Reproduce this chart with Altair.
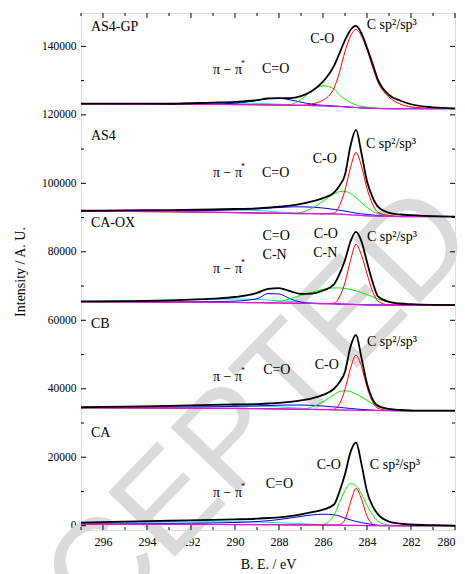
import altair as alt
import pandas as pd

# ---------------- data ----------------
BE = [297, 295, 293, 291, 290, 289, 288.5, 288, 287.5, 287, 286.5, 286, 285.5,
      285.25, 285, 284.75, 284.5, 284.25, 284, 283.75, 283.5, 283, 282.5, 282, 281, 280]

GP_BASE = [123200, 123150, 123100, 123050, 123000, 122950, 122900, 122850, 122800, 122750, 122700, 122600, 122500,
           122450, 122350, 122250, 122150, 122050, 121950, 121900, 121850, 121800, 121800, 121800, 121800, 121800]
GP_TOTAL = [123300, 123300, 123250, 123600, 123800, 124300, 124800, 124900, 124900, 125500, 127000, 129700, 134300,
            138000, 141800, 144800, 146000, 143800, 139600, 135000, 130200, 125800, 124200, 123100, 122200, 121900]
GP_RED = [123200, 123150, 123100, 123050, 123000, 122950, 122900, 122850, 122800, 122800, 123200, 124300, 127800,
          132500, 138500, 143000, 144950, 143000, 139000, 134000, 129500, 125200, 123200, 122300, 121900, 121800]
GP_GREEN = [123200, 123150, 123100, 123050, 123000, 122950, 122900, 122850, 123000, 124500, 127100, 128500, 127600,
            125800, 124600, 123600, 122900, 122500, 122200, 122050, 121950, 121850, 121800, 121800, 121800, 121800]
GP_BLUE = [123200, 123150, 123100, 123150, 123400, 124200, 124700, 124800, 124400, 123700, 123100, 122800, 122600,
           122450, 122350, 122250, 122150, 122050, 121950, 121900, 121850, 121800, 121800, 121800, 121800, 121800]
GP_CYAN = [123250, 123250, 123300, 123400, 123400, 123350, 123250, 123100, 122950, 122800, 122700, 122600, 122500,
           122450, 122350, 122250, 122150, 122050, 121950, 121900, 121850, 121800, 121800, 121800, 121800, 121800]

AS4_BASE = [91900, 91800, 91700, 91550, 91450, 91350, 91300, 91250, 91200, 91150, 91150, 91100, 91050,
            91000, 90900, 90800, 90700, 90600, 90500, 90450, 90400, 90350, 90300, 90300, 90300, 90300]
AS4_TOTAL = [92000, 92100, 92200, 92400, 92500, 92700, 92900, 93200, 93500, 94000, 94700, 95700, 97300,
             99300, 102500, 111000, 115600, 108700, 100600, 96000, 93200, 91400, 90900, 90700, 90400, 90300]
AS4_RED = [91900, 91800, 91700, 91550, 91450, 91350, 91300, 91250, 91200, 91150, 91150, 91100, 91300,
           93500, 98000, 104600, 109000, 105000, 98500, 94000, 91500, 90600, 90300, 90300, 90300, 90300]
AS4_GREEN = [91900, 91800, 91700, 91550, 91450, 91350, 91300, 91250, 91200, 91500, 92700, 94800, 96900,
             97600, 97700, 97000, 95800, 94300, 93000, 91900, 91100, 90550, 90300, 90300, 90300, 90300]
AS4_BLUE = [91950, 91950, 91950, 92100, 92250, 92500, 92750, 92950, 93100, 93150, 93050, 92800, 92400,
            92150, 91900, 91600, 91300, 91100, 90900, 90750, 90600, 90450, 90300, 90300, 90300, 90300]
AS4_CYAN = [91950, 92000, 92100, 92250, 92250, 92100, 91900, 91600, 91450, 91300, 91200, 91100, 91050,
            91000, 90900, 90800, 90700, 90600, 90500, 90450, 90400, 90350, 90300, 90300, 90300, 90300]

OX_BASE = [65400, 65350, 65300, 65250, 65200, 65150, 65100, 65050, 65000, 64950, 64900, 64850, 64800,
           64750, 64700, 64650, 64600, 64550, 64500, 64480, 64460, 64450, 64450, 64450, 64450, 64450]
OX_TOTAL = [65500, 65600, 65800, 66300, 66800, 68000, 69200, 69400, 68500, 67700, 67800, 68700, 70500,
            73500, 77600, 83000, 85800, 83000, 77000, 71300, 67000, 65400, 64900, 64700, 64500, 64450]
OX_RED = [65400, 65350, 65300, 65250, 65200, 65150, 65100, 65050, 65000, 64950, 64900, 64850, 65000,
          66800, 71000, 77500, 82200, 79000, 73600, 68500, 65600, 64500, 64450, 64450, 64450, 64450]
OX_GREEN = [65400, 65350, 65300, 65250, 65200, 65150, 65150, 65400, 66300, 67300, 68200, 69000, 69450,
            69450, 69300, 69000, 68600, 68100, 67500, 66900, 66200, 65300, 64700, 64450, 64450, 64450]
OX_BLUE = [65450, 65450, 65400, 65450, 65600, 66300, 67800, 67700, 66300, 65300, 64950, 64850, 64800,
           64750, 64700, 64650, 64600, 64550, 64500, 64480, 64460, 64450, 64450, 64450, 64450, 64450]
OX_CYAN = [65500, 65700, 65900, 66100, 66200, 66100, 65900, 65700, 65500, 65300, 65100, 64950, 64850,
           64750, 64700, 64650, 64600, 64550, 64500, 64480, 64460, 64450, 64450, 64450, 64450, 64450]

CB_BASE = [34450, 34400, 34350, 34300, 34250, 34200, 34150, 34100, 34050, 34000, 33950, 33900, 33850,
           33800, 33780, 33750, 33720, 33700, 33680, 33660, 33650, 33620, 33600, 33600, 33600, 33600]
CB_TOTAL = [34600, 34800, 35000, 35300, 35400, 35500, 35700, 35900, 36200, 36600, 37200, 38200, 40000,
            41900, 45000, 52300, 55700, 49000, 41500, 37000, 35000, 34100, 33800, 33650, 33600, 33600]
CB_RED = [34450, 34400, 34350, 34300, 34250, 34200, 34150, 34100, 34050, 34000, 33950, 33900, 34000,
          35600, 39800, 46000, 49800, 46500, 40500, 36200, 34300, 33650, 33600, 33600, 33600, 33600]
CB_GREEN = [34450, 34400, 34350, 34300, 34250, 34200, 34150, 34100, 34050, 34050, 34700, 36200, 38300,
            39200, 39400, 39200, 38500, 37600, 36600, 35600, 34800, 33900, 33650, 33600, 33600, 33600]
CB_BLUE = [34450, 34500, 34600, 34750, 34850, 35000, 35100, 35200, 35250, 35250, 35150, 34950, 34700,
           34550, 34400, 34250, 34100, 33970, 33850, 33770, 33700, 33620, 33600, 33600, 33600, 33600]
CB_CYAN = [34500, 34650, 34800, 34950, 35000, 34950, 34850, 34700, 34500, 34300, 34100, 33950, 33870,
           33800, 33780, 33750, 33720, 33700, 33680, 33660, 33650, 33620, 33600, 33600, 33600, 33600]

CA_BASE = [450, 420, 390, 360, 340, 320, 300, 280, 260, 240, 220, 190, 160,
           140, 120, 100, 80, 60, 40, 30, 20, 10, 0, 0, 0, 0]
CA_TOTAL = [900, 1200, 1450, 1700, 1850, 2050, 2250, 2450, 2800, 3300, 3950, 4700, 6200,
            10000, 15000, 21500, 24300, 18000, 10000, 5800, 3300, 1200, 600, 350, 150, 50]
CA_RED = [450, 420, 390, 360, 340, 320, 300, 280, 260, 240, 220, 190, 160,
          300, 1800, 6800, 10900, 7800, 2800, 500, 50, 10, 0, 0, 0, 0]
CA_GREEN = [450, 420, 390, 360, 340, 320, 300, 280, 260, 240, 220, 400, 3000,
            6800, 10300, 12300, 11700, 9300, 6000, 3200, 1300, 200, 0, 0, 0, 0]
CA_BLUE = [500, 550, 650, 800, 950, 1200, 1450, 1800, 2250, 2750, 3150, 3350, 3200,
           2800, 2200, 1700, 1250, 900, 600, 350, 150, 30, 0, 0, 0, 0]
CA_CYAN = [800, 950, 1100, 1150, 1150, 1100, 1000, 900, 750, 600, 450, 330, 220,
           150, 120, 100, 80, 60, 40, 30, 20, 10, 0, 0, 0, 0]

PANELS = {
    "AS4-GP": {"base": GP_BASE, "total": GP_TOTAL, "red": GP_RED, "green": GP_GREEN, "blue": GP_BLUE, "cyan": GP_CYAN},
    "AS4": {"base": AS4_BASE, "total": AS4_TOTAL, "red": AS4_RED, "green": AS4_GREEN, "blue": AS4_BLUE, "cyan": AS4_CYAN},
    "CA-OX": {"base": OX_BASE, "total": OX_TOTAL, "red": OX_RED, "green": OX_GREEN, "blue": OX_BLUE, "cyan": OX_CYAN},
    "CB": {"base": CB_BASE, "total": CB_TOTAL, "red": CB_RED, "green": CB_GREEN, "blue": CB_BLUE, "cyan": CB_CYAN},
    "CA": {"base": CA_BASE, "total": CA_TOTAL, "red": CA_RED, "green": CA_GREEN, "blue": CA_BLUE, "cyan": CA_CYAN},
}

# annotation texts
SAMPLE_NAMES = ["AS4-GP", "AS4", "CA-OX", "CB", "CA"]
SAMPLE_Y = [145800, 113900, 88450, 58950, 26980]
CO_Y = [142060, 107080, 85090, 47010, 17720]
CO_X = [286.03, 285.92, 285.87, 285.83, 285.74]
CEO_Y = [133350, 102990, 84500, 45550, 12120]
CEO_X = [288.15, 288.15, 288.13, 288.1, 287.98]
CN_X = [288.2, 285.9]
CN_Y = [79040, 79630]
SP_X = [284.01, 284.05, 284.0, 284.0, 283.87]
SP_Y = [146350, 111600, 84390, 53730, 17640]
PI_Y = [133060, 102990, 74960, 43510, 9610]

X_MAJOR = [296, 294, 292, 290, 288, 286, 284, 282, 280]
X_MINOR = [297, 295, 293, 291, 289, 287, 285, 283, 281]
Y_MAJOR = [0, 20000, 40000, 60000, 80000, 100000, 120000, 140000]
Y_MINOR = [10000, 30000, 50000, 70000, 90000, 110000, 130000]

# ---------------- chart ----------------
W, H = 374, 517
FONT = "Liberation Serif"
XS = alt.Scale(domain=[297, 280], nice=False, zero=False)
YS = alt.Scale(domain=[-1250, 149750], nice=False, zero=False)

rows = []
for pname, curves in PANELS.items():
    for cname, vals in curves.items():
        for xv, yv in zip(BE, vals):
            rows.append({"panel": pname, "curve": cname, "be": xv, "intensity": yv})
df = pd.DataFrame(rows)

X_AXIS = alt.Axis(values=X_MAJOR, format="d", ticks=False, tickSize=0, domain=False, grid=False,
                  labelFont=FONT, labelFontSize=12, labelColor="black", labelPadding=6,
                  titleFont=FONT, titleFontSize=14, titleFontWeight="normal", titleColor="black",
                  titlePadding=10)
Y_AXIS = alt.Axis(values=Y_MAJOR, format="d", ticks=False, tickSize=0, domain=False, grid=False,
                  labelFont=FONT, labelFontSize=11.5, labelColor="black", labelPadding=5,
                  titleFont=FONT, titleFontSize=14, titleFontWeight="normal", titleColor="black",
                  titlePadding=14)


def xenc():
    return alt.X("be:Q", scale=XS, axis=X_AXIS, title="B. E. / eV")


def yenc():
    return alt.Y("intensity:Q", scale=YS, axis=Y_AXIS, title="Intensity / A. U.")


STYLE = {"cyan": ("#00e5ff", 1.0), "blue": ("#0000ff", 1.0), "green": ("#00ee00", 1.0),
         "red": ("#ff0000", 1.0), "base": ("#ff00ff", 1.2), "total": ("#000000", 1.8)}


def curve_layer(name):
    color, sw = STYLE[name]
    return alt.Chart(df).transform_filter(alt.datum.curve == name).mark_line(
        interpolate="monotone", color=color, strokeWidth=sw, clip=True
    ).encode(
        x=xenc(), y=yenc(),
        detail="panel:N",
        order=alt.Order("be:Q", sort="descending"),
    )


# watermark
wm = alt.Chart(pd.DataFrame({"t": ["ACCEPTED"]})).mark_text(
    font="Liberation Sans", fontSize=135, color="#dadada", angle=314, align="center", baseline="middle"
).encode(text="t:N", x=alt.value(114), y=alt.value(464))


def x_ticks(vals, length, top):
    d = pd.DataFrame({"be": vals})
    y0 = 0 if top else H
    y1 = length if top else H - length
    return alt.Chart(d).mark_rule(color="black", strokeWidth=1).encode(
        x=xenc(), y=alt.value(y0), y2=alt.value(y1))


def y_ticks(vals, length, right):
    d = pd.DataFrame({"intensity": vals})
    x0 = W if right else 0
    x1 = W - length if right else length
    return alt.Chart(d).mark_rule(color="black", strokeWidth=1).encode(
        y=yenc(), x=alt.value(x0), x2=alt.value(x1))


ticks = [x_ticks(X_MAJOR, 5, False), x_ticks(X_MINOR, 3, False), x_ticks(X_MAJOR, 5, True), x_ticks(X_MINOR, 3, True),
         y_ticks(Y_MAJOR, 5, False), y_ticks(Y_MINOR, 3, False), y_ticks(Y_MAJOR, 5, True), y_ticks(Y_MINOR, 3, True)]


def text_layer(xs, ys, texts, align, size=14, dx=0, dy=0):
    d = pd.DataFrame({"be": xs, "intensity": ys, "t": texts})
    return alt.Chart(d).mark_text(font=FONT, fontSize=size, color="black", align=align,
                                  baseline="middle", dx=dx, dy=dy).encode(
        x=xenc(), y=yenc(), text="t:N")


texts = [
    text_layer([296.55] * 5, SAMPLE_Y, SAMPLE_NAMES, "left"),
    text_layer(CO_X, CO_Y, ["C-O"] * 5, "center"),
    text_layer(CEO_X, CEO_Y, ["C=O"] * 5, "center"),
    text_layer(CN_X, CN_Y, ["C-N"] * 2, "center"),
    text_layer(SP_X, SP_Y, ["C sp²/sp³"] * 5, "left"),
    text_layer([291.0] * 5, PI_Y, ["π − π"] * 5, "left"),
    text_layer([291.0] * 5, PI_Y, ["*"] * 5, "left", size=8, dx=28, dy=-6),
]

curves = [curve_layer("cyan"), curve_layer("blue"), curve_layer("green"),
          curve_layer("red"), curve_layer("base"), curve_layer("total")]

chart = alt.layer(wm, *curves, *ticks, *texts).properties(
    width=W, height=H,
    autosize=alt.AutoSizeParams(type="none"),
    padding={"left": 81, "top": 13, "right": 10, "bottom": 44},
).configure_view(stroke="black", strokeWidth=1).configure_axis(
    labelFont=FONT, titleFont=FONT, labelColor="black", titleColor="black"
).configure(background="white")

chart.save("out.html", embed_options={"renderer": "svg", "actions": False})
